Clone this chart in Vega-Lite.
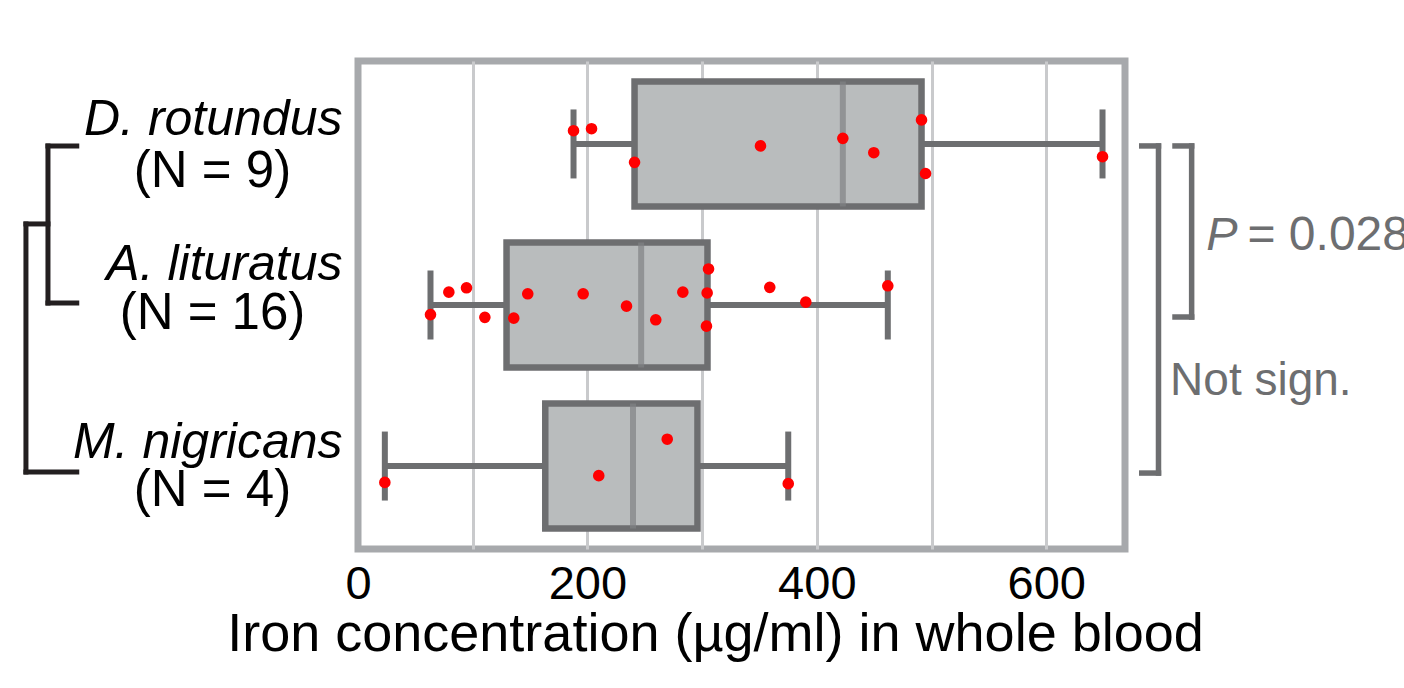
{
  "$schema": "https://vega.github.io/schema/vega-lite/v6.json",
  "width": 767,
  "height": 488,
  "autosize": {"type": "none"},
  "padding": {"left": 358, "top": 61, "right": 279, "bottom": 139},
  "background": "white",
  "config": {
    "font": "Liberation Sans",
    "view": {"stroke": "#a7a9ac", "strokeWidth": 7}
  },
  "datasets": {
    "bats": [
      {"species": "D. rotundus", "value": 187.9, "jitter": -0.33},
      {"species": "D. rotundus", "value": 203.6, "jitter": -0.38},
      {"species": "D. rotundus", "value": 241.1, "jitter": 0.46},
      {"species": "D. rotundus", "value": 350.9, "jitter": 0.05},
      {"species": "D. rotundus", "value": 422.7, "jitter": -0.14},
      {"species": "D. rotundus", "value": 449.7, "jitter": 0.22},
      {"species": "D. rotundus", "value": 491.3, "jitter": -0.6},
      {"species": "D. rotundus", "value": 494.8, "jitter": 0.74},
      {"species": "D. rotundus", "value": 649.1, "jitter": 0.32},
      {"species": "A. lituratus", "value": 63.2, "jitter": 0.24},
      {"species": "A. lituratus", "value": 79.2, "jitter": -0.32},
      {"species": "A. lituratus", "value": 94.6, "jitter": -0.43},
      {"species": "A. lituratus", "value": 110.6, "jitter": 0.31},
      {"species": "A. lituratus", "value": 135.8, "jitter": 0.33},
      {"species": "A. lituratus", "value": 148.0, "jitter": -0.28},
      {"species": "A. lituratus", "value": 196.3, "jitter": -0.28},
      {"species": "A. lituratus", "value": 234.1, "jitter": 0.03},
      {"species": "A. lituratus", "value": 259.6, "jitter": 0.37},
      {"species": "A. lituratus", "value": 283.2, "jitter": -0.32},
      {"species": "A. lituratus", "value": 305.6, "jitter": -0.9},
      {"species": "A. lituratus", "value": 304.4, "jitter": -0.3},
      {"species": "A. lituratus", "value": 303.8, "jitter": 0.53},
      {"species": "A. lituratus", "value": 359.0, "jitter": -0.44},
      {"species": "A. lituratus", "value": 390.4, "jitter": -0.07},
      {"species": "A. lituratus", "value": 461.9, "jitter": -0.48},
      {"species": "M. nigricans", "value": 23.4, "jitter": 0.41},
      {"species": "M. nigricans", "value": 209.9, "jitter": 0.24},
      {"species": "M. nigricans", "value": 269.6, "jitter": -0.67},
      {"species": "M. nigricans", "value": 375.1, "jitter": 0.44}
    ],
    "one": [{}]
  },
  "resolve": {"axis": {"y": "independent"}},
  "layer": [
    {
      "data": {"name": "bats"},
      "mark": {
        "type": "boxplot",
        "extent": "min-max",
        "size": 125,
        "box": {"fill": "#b9bcbd", "stroke": "#6d6e70", "strokeWidth": 6.5},
        "median": {"color": "#808285", "thickness": 6},
        "rule": {"color": "#6d6e70", "strokeWidth": 6},
        "ticks": {"color": "#6d6e70", "size": 69, "thickness": 6}
      },
      "encoding": {
        "x": {
          "field": "value",
          "type": "quantitative",
          "title": "Iron concentration (µg/ml) in whole blood",
          "scale": {"domain": [0, 668.7], "nice": false, "zero": false}
        },
        "y": {
          "field": "species",
          "type": "nominal",
          "scale": {"domain": ["D. rotundus", "A. lituratus", "M. nigricans"], "paddingInner": 0, "paddingOuter": 0.015},
          "axis": {
            "orient": "left",
            "title": null,
            "domain": false,
            "ticks": false,
            "tickSize": 0,
            "labelFont": "Liberation Sans",
            "labelFontStyle": "italic",
            "labelFontSize": 50,
            "labelColor": "#000000",
            "labelAlign": "right",
            "labelBaseline": "alphabetic",
            "labelPadding": 16,
            "labelLimit": 500,
            "labelOffset": {"condition": [{"test": "datum.value === 'D. rotundus'", "value": -9}, {"test": "datum.value === 'A. lituratus'", "value": -25}], "value": -8}
          }
        }
      }
    },
    {
      "data": {"name": "bats"},
      "mark": {"type": "circle", "color": "#ff0000", "opacity": 1, "size": 135},
      "encoding": {
        "x": {
          "field": "value",
          "type": "quantitative",
          "title": "Iron concentration (µg/ml) in whole blood",
          "scale": {"domain": [0, 668.7], "nice": false, "zero": false},
          "axis": {
            "orient": "bottom",
            "values": [0, 100, 200, 300, 400, 500, 600],
            "labelExpr": "datum.value % 200 === 0 ? datum.label : ''",
            "grid": true,
            "gridColor": {"condition": {"test": "datum.value === 0", "value": "#a7a9ac"}, "value": "#c9cacc"},
            "gridWidth": 3,
            "domain": false,
            "ticks": false,
            "tickSize": 0,
            "labelFont": "Liberation Sans",
            "labelFontSize": 47,
            "labelColor": "#000000",
            "labelPadding": 12,
            "labelFlush": false,
            "labelOverlap": false,
            "title": "Iron concentration (µg/ml) in whole blood",
            "titleFont": "Liberation Sans",
            "titleFontSize": 54,
            "titleFontWeight": "normal",
            "titleColor": "#000000",
            "titleX": 357,
            "titleY": 101,
            "titleAlign": "center",
            "titleBaseline": "alphabetic"
          }
        },
        "y": {
          "field": "species",
          "type": "nominal",
          "axis": {
            "orient": "left",
            "title": null,
            "domain": false,
            "ticks": false,
            "tickSize": 0,
            "labelExpr": "datum.value === 'D. rotundus' ? '(N = 9)' : datum.value === 'A. lituratus' ? '(N = 16)' : '(N = 4)'",
            "labelFont": "Liberation Sans",
            "labelFontSize": 51,
            "labelColor": "#000000",
            "labelAlign": "center",
            "labelBaseline": "alphabetic",
            "labelPadding": 146,
            "labelLimit": 500,
            "labelOffset": {"condition": [{"test": "datum.value === 'D. rotundus'", "value": 43}, {"test": "datum.value === 'A. lituratus'", "value": 24}], "value": 40}
          }
        },
        "yOffset": {"field": "jitter", "type": "quantitative", "scale": {"domain": [-1, 1], "range": [40.5, 120.5]}}
      }
    },
    {
      "data": {"name": "one"},
      "mark": {"type": "rule", "color": "#6d6e70", "strokeWidth": 5.5, "strokeCap": "square", "yOffset": 2, "y2Offset": 7},
      "encoding": {
        "x": {"datum": 697.9, "type": "quantitative"},
        "y": {"datum": "D. rotundus", "type": "nominal", "axis": null},
        "y2": {"datum": "M. nigricans"}
      }
    },
    {
      "data": {"name": "one"},
      "mark": {"type": "rule", "color": "#6d6e70", "strokeWidth": 5.5, "strokeCap": "square", "yOffset": 2},
      "encoding": {
        "x": {"datum": 683.3, "type": "quantitative"},
        "x2": {"datum": 697.9},
        "y": {"datum": "D. rotundus", "type": "nominal", "axis": null}
      }
    },
    {
      "data": {"name": "one"},
      "mark": {"type": "rule", "color": "#6d6e70", "strokeWidth": 5.5, "strokeCap": "square", "yOffset": 7},
      "encoding": {
        "x": {"datum": 683.3, "type": "quantitative"},
        "x2": {"datum": 697.9},
        "y": {"datum": "M. nigricans", "type": "nominal", "axis": null}
      }
    },
    {
      "data": {"name": "one"},
      "mark": {"type": "rule", "color": "#6d6e70", "strokeWidth": 5.5, "strokeCap": "square", "yOffset": 2, "y2Offset": 12},
      "encoding": {
        "x": {"datum": 726.8, "type": "quantitative"},
        "y": {"datum": "D. rotundus", "type": "nominal", "axis": null},
        "y2": {"datum": "A. lituratus"}
      }
    },
    {
      "data": {"name": "one"},
      "mark": {"type": "rule", "color": "#6d6e70", "strokeWidth": 5.5, "strokeCap": "square", "yOffset": 2},
      "encoding": {
        "x": {"datum": 712.3, "type": "quantitative"},
        "x2": {"datum": 726.8},
        "y": {"datum": "D. rotundus", "type": "nominal", "axis": null}
      }
    },
    {
      "data": {"name": "one"},
      "mark": {"type": "rule", "color": "#6d6e70", "strokeWidth": 5.5, "strokeCap": "square", "yOffset": 12},
      "encoding": {
        "x": {"datum": 712.3, "type": "quantitative"},
        "x2": {"datum": 726.8},
        "y": {"datum": "A. lituratus", "type": "nominal", "axis": null}
      }
    },
    {
      "data": {"name": "one"},
      "mark": {"type": "text", "text": "P", "font": "Liberation Sans", "fontStyle": "italic", "fontSize": 47, "color": "#6d6e70", "align": "left", "baseline": "alphabetic", "yOffset": 106},
      "encoding": {
        "x": {"datum": 739.5, "type": "quantitative"},
        "y": {"datum": "D. rotundus", "type": "nominal", "axis": null}
      }
    },
    {
      "data": {"name": "one"},
      "mark": {"type": "text", "text": "= 0.028", "font": "Liberation Sans", "fontSize": 48, "color": "#6d6e70", "align": "left", "baseline": "alphabetic", "yOffset": 106},
      "encoding": {
        "x": {"datum": 775.5, "type": "quantitative"},
        "y": {"datum": "D. rotundus", "type": "nominal", "axis": null}
      }
    },
    {
      "data": {"name": "one"},
      "mark": {"type": "text", "text": "Not sign.", "font": "Liberation Sans", "fontSize": 46, "color": "#6d6e70", "align": "left", "baseline": "alphabetic", "yOffset": 90},
      "encoding": {
        "x": {"datum": 708, "type": "quantitative"},
        "y": {"datum": "A. lituratus", "type": "nominal", "axis": null}
      }
    },
    {
      "data": {"name": "one"},
      "mark": {"type": "rule", "color": "#231f20", "strokeWidth": 5, "strokeCap": "square", "yOffset": 2},
      "encoding": {
        "x": {"datum": -270.3, "type": "quantitative"},
        "x2": {"datum": -245.2},
        "y": {"datum": "D. rotundus", "type": "nominal", "axis": null}
      }
    },
    {
      "data": {"name": "one"},
      "mark": {"type": "rule", "color": "#231f20", "strokeWidth": 5, "strokeCap": "square", "yOffset": -2},
      "encoding": {
        "x": {"datum": -270.3, "type": "quantitative"},
        "x2": {"datum": -245.2},
        "y": {"datum": "A. lituratus", "type": "nominal", "axis": null}
      }
    },
    {
      "data": {"name": "one"},
      "mark": {"type": "rule", "color": "#231f20", "strokeWidth": 5, "strokeCap": "square", "yOffset": 2, "y2Offset": -2},
      "encoding": {
        "x": {"datum": -270.3, "type": "quantitative"},
        "y": {"datum": "D. rotundus", "type": "nominal", "axis": null},
        "y2": {"datum": "A. lituratus"}
      }
    },
    {
      "data": {"name": "one"},
      "mark": {"type": "rule", "color": "#231f20", "strokeWidth": 5, "strokeCap": "square", "yOffset": 80},
      "encoding": {
        "x": {"datum": -289.5, "type": "quantitative"},
        "x2": {"datum": -270.3},
        "y": {"datum": "D. rotundus", "type": "nominal", "axis": null}
      }
    },
    {
      "data": {"name": "one"},
      "mark": {"type": "rule", "color": "#231f20", "strokeWidth": 5, "strokeCap": "square", "yOffset": 80, "y2Offset": 6},
      "encoding": {
        "x": {"datum": -289.5, "type": "quantitative"},
        "y": {"datum": "D. rotundus", "type": "nominal", "axis": null},
        "y2": {"datum": "M. nigricans"}
      }
    },
    {
      "data": {"name": "one"},
      "mark": {"type": "rule", "color": "#231f20", "strokeWidth": 5, "strokeCap": "square", "yOffset": 6},
      "encoding": {
        "x": {"datum": -289.5, "type": "quantitative"},
        "x2": {"datum": -245.2},
        "y": {"datum": "M. nigricans", "type": "nominal", "axis": null}
      }
    }
  ]
}
